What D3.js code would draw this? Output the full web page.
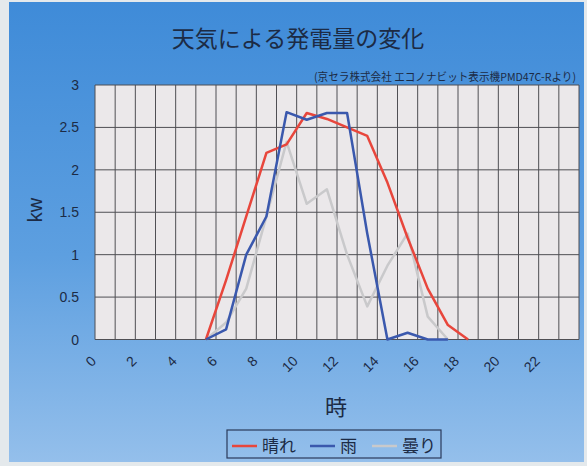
<!DOCTYPE html>
<html><head><meta charset="utf-8">
<script src="https://cdn.jsdelivr.net/npm/d3@7"></script>
<style>
html,body{margin:0;padding:0;background:#e4e9ec;}
svg{display:block;}
</style></head>
<body>
<svg id="c" width="587" height="466"></svg>
<script>
const hours = [0,1,2,3,4,5,6,7,8,9,10,11,12,13,14,15,16,17,18,19,20,21,22,23];
const tickLabels = [0,2,4,6,8,10,12,14,16,18,20,22];
const yTicks = [0,0.5,1,1.5,2,2.5,3];
const sunnyHours = [5,6,7,8,9,10,11,12,13,14,15,16,17,18];
const sunny = [0,0.7,1.45,2.2,2.3,2.67,2.6,2.5,2.4,1.85,1.2,0.6,0.17,0];
const rainHours = [5,6,7,8,9,10,11,12,13,14,15,16,17];
const rain = [0,0.12,1.0,1.45,2.68,2.59,2.67,2.67,1.25,0,0.08,0,0];
const cloudyHours = [5,6,7,8,9,10,11,12,13,14,15,16,17];
const cloudy = [0,0.2,0.6,1.45,2.33,1.6,1.77,1.0,0.39,0.87,1.25,0.27,0];
const seriesNames = ["晴れ","雨","曇り"];
const colors = ["#e8463c","#3a58ad","#c9c9cb"];

const svg = d3.select("#c");
const defs = svg.append("defs");
const g = defs.append("linearGradient").attr("id","bg").attr("x1",0).attr("y1",0).attr("x2",0).attr("y2",1);
g.append("stop").attr("offset","0%").attr("stop-color","#3f8bd8");
g.append("stop").attr("offset","55%").attr("stop-color","#5d9fe0");
g.append("stop").attr("offset","100%").attr("stop-color","#94bfeb");
svg.append("rect").attr("x",9).attr("y",2).attr("width",575).attr("height",460).attr("fill","url(#bg)");

const L=95,R=579,T=85,B=339.5;
const x = d3.scaleBand().domain(hours).range([L,R]).padding(0);
const y = d3.scaleLinear().domain([0,3]).range([B,T]);

svg.append("rect").attr("x",L).attr("y",T).attr("width",R-L).attr("height",B-T).attr("fill","#ebe8ea");

// grid
const gg = svg.append("g").attr("stroke","#4f4f54").attr("stroke-width",1);
gg.selectAll("line.h").data(yTicks).join("line")
  .attr("x1",L).attr("x2",R).attr("y1",d=>y(d)).attr("y2",d=>y(d));
gg.selectAll("line.v").data(hours.concat([24])).join("line")
  .attr("x1",d=>d<24?x(d):R).attr("x2",d=>d<24?x(d):R).attr("y1",T).attr("y2",B);

// y axis labels
const tc="#1c2b45";
svg.append("g").selectAll("text").data(yTicks).join("text")
  .attr("x",79).attr("y",d=>y(d)+5).attr("text-anchor","end")
  .attr("font-family","Liberation Sans, Arial, sans-serif").attr("font-size",14).attr("fill",tc)
  .text(d=>d);
// x labels
svg.append("g").selectAll("text").data(tickLabels).join("text")
  .attr("transform",d=>`translate(${x(d)+x.bandwidth()/2-8},${362}) rotate(-45)`)
  .attr("text-anchor","end")
  .attr("font-family","Liberation Sans, Arial, sans-serif").attr("font-size",14).attr("fill",tc)
  .text(d=>d);

// titles
svg.append("text").attr("x",298).attr("y",47).attr("text-anchor","middle")
  .attr("font-family","Noto Sans CJK JP").attr("font-size",23).attr("fill",tc).text("天気による発電量の変化");
svg.append("text").attr("x",314).attr("y",81)
  .attr("font-family","Noto Sans CJK JP").attr("font-size",11).attr("fill",tc)
  .attr("textLength",262).attr("lengthAdjust","spacingAndGlyphs")
  .text("(京セラ株式会社 エコノナビット表示機PMD47C-Rより)");
svg.append("text").attr("transform","translate(42,210) rotate(-90)").attr("text-anchor","middle")
  .attr("font-family","Liberation Sans, Arial, sans-serif").attr("font-size",20).attr("fill",tc).text("kw");
svg.append("text").attr("x",336).attr("y",415).attr("text-anchor","middle")
  .attr("font-family","Noto Sans CJK JP").attr("font-size",22).attr("fill",tc).text("時");

// lines
const data = [
  sunnyHours.map((h,i)=>[h,sunny[i]]),
  rainHours.map((h,i)=>[h,rain[i]]),
  cloudyHours.map((h,i)=>[h,cloudy[i]])
];
const line = d3.line().x(d=>x(d[0])+x.bandwidth()/2).y(d=>y(d[1]));
const order=[2,0,1];
svg.append("g").selectAll("path").data(order).join("path")
  .attr("d",i=>line(data[i])).attr("fill","none")
  .attr("stroke",i=>colors[i]).attr("stroke-width",2.5).attr("stroke-linejoin","round");

// legend
svg.append("rect").attr("x",227).attr("y",430).attr("width",214).attr("height",28)
  .attr("fill","none").attr("stroke","#2a3a5a").attr("stroke-width",1.2);
const lx=[232,310,372];
const legend = svg.append("g").selectAll("g").data(seriesNames).join("g");
legend.append("line").attr("x1",(d,i)=>lx[i]).attr("x2",(d,i)=>lx[i]+25).attr("y1",446).attr("y2",446)
  .attr("stroke",(d,i)=>colors[i]).attr("stroke-width",2.5);
legend.append("text").attr("x",(d,i)=>lx[i]+30).attr("y",452)
  .attr("font-family","Noto Sans CJK JP").attr("font-size",17).attr("fill",tc).text(d=>d);
</script>
</body></html>
